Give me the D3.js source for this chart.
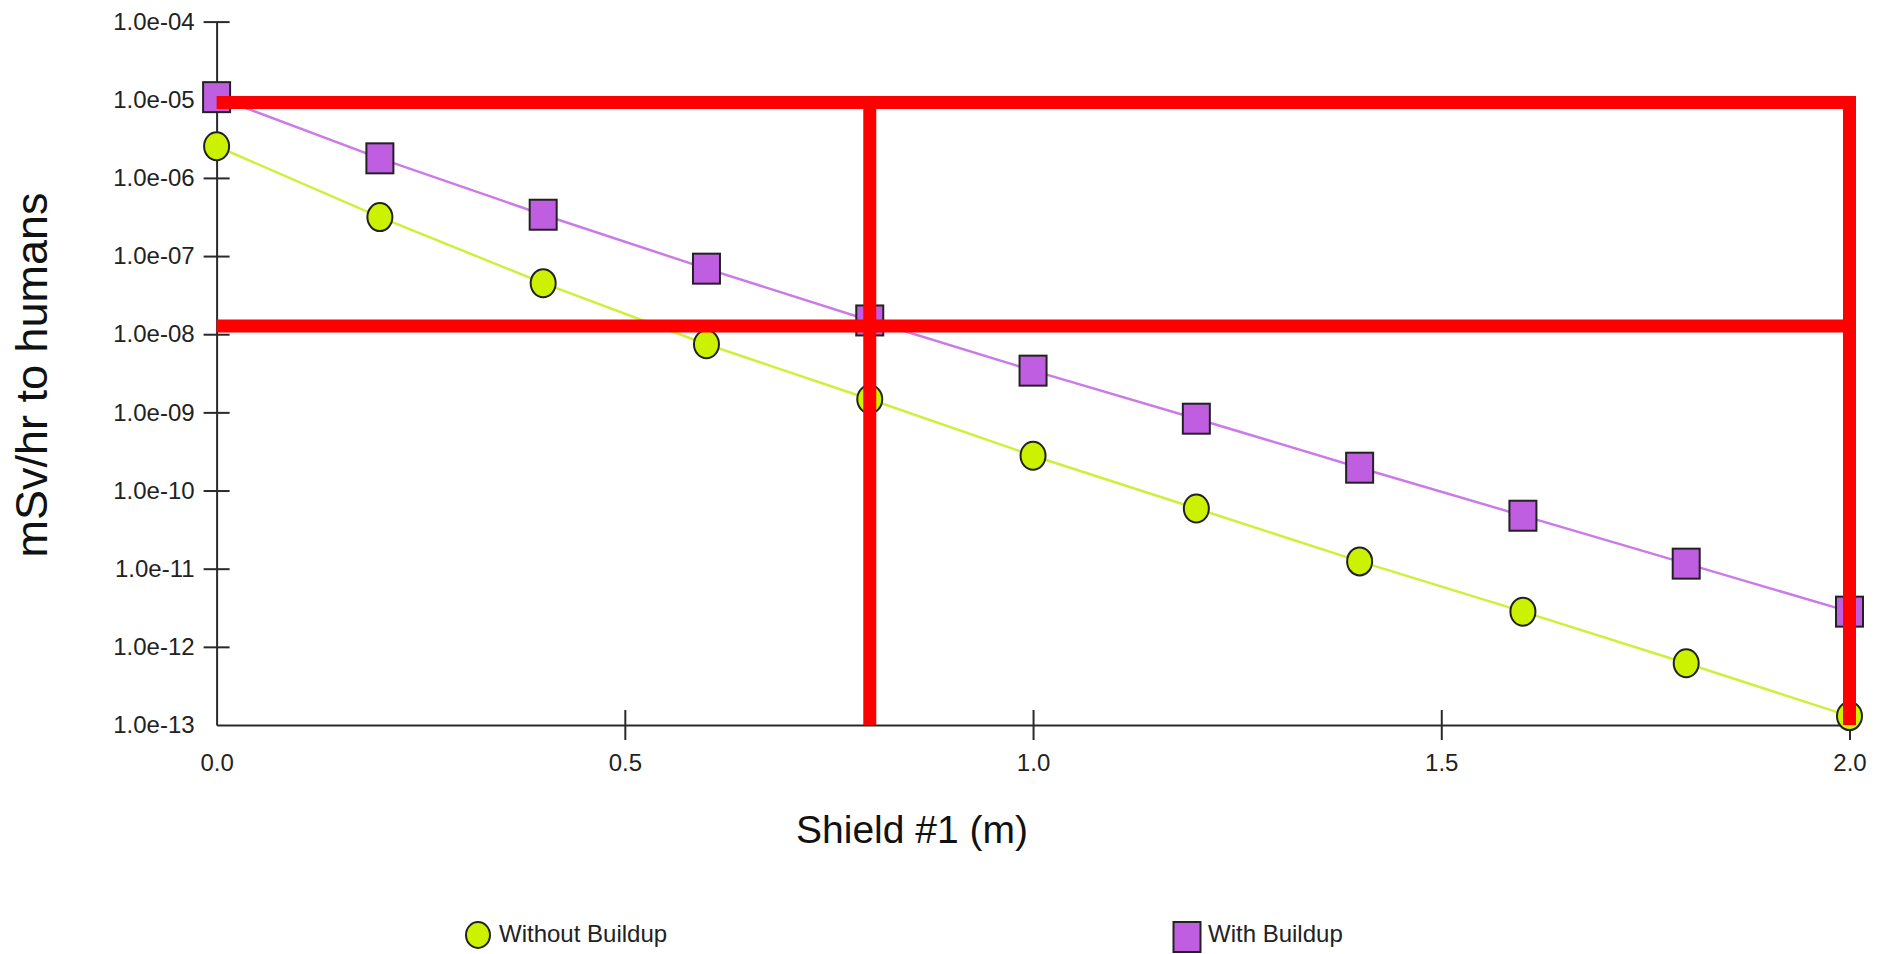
<!DOCTYPE html>
<html>
<head>
<meta charset="utf-8">
<script src="https://cdn.jsdelivr.net/npm/d3@7"></script>
<style>
  html, body { margin: 0; padding: 0; background: #fff; }
  svg { display: block; font-family: "Liberation Sans", Arial, sans-serif; }
</style>
</head>
<body>
<svg id="chart" width="1881" height="954"></svg>
<script>
// ---- data ----
const shield = [0.0, 0.2, 0.4, 0.6, 0.8, 1.0, 1.2, 1.4, 1.6, 1.8, 2.0];
const withoutBuildup = [2.54e-6, 3.15e-7, 4.5e-8, 7.45e-9, 1.47e-9, 2.79e-10, 5.9e-11, 1.24e-11, 2.82e-12, 6.17e-13, 1.3e-13];
const withBuildup = [1.08e-5, 1.78e-6, 3.38e-7, 6.9e-8, 1.5e-8, 3.42e-9, 8.3e-10, 1.96e-10, 4.76e-11, 1.16e-11, 2.82e-12];
const seriesNames = ["Without Buildup", "With Buildup"];
const yTickValues = [1e-4, 1e-5, 1e-6, 1e-7, 1e-8, 1e-9, 1e-10, 1e-11, 1e-12, 1e-13];
const yTickLabels = ["1.0e-04", "1.0e-05", "1.0e-06", "1.0e-07", "1.0e-08", "1.0e-09", "1.0e-10", "1.0e-11", "1.0e-12", "1.0e-13"];
const xTickValues = [0.0, 0.5, 1.0, 1.5, 2.0];
const xTickLabels = ["0.0", "0.5", "1.0", "1.5", "2.0"];
const refX = [0.8, 2.0];          // red annotation verticals
const refY = [9.2e-6, 1.27e-8];   // red annotation horizontals
const xTitle = "Shield #1 (m)";
const yTitle = "mSv/hr to humans";

// ---- layout ----
const svg = d3.select("#chart");
const x = d3.scaleLinear().domain([0, 2]).range([216.6, 1849.5]);
const y = d3.scaleLog().domain([1e-13, 1e-4]).range([725, 21.6]);

const axisColor = "#2a2a2a";
const textColor = "#222";

// y axis
const gy = svg.append("g").attr("transform", `translate(${x(0)},0)`)
  .call(d3.axisLeft(y).tickValues(yTickValues).tickFormat((d, i) => yTickLabels[i]).tickSizeOuter(0).tickPadding(16));
gy.select(".domain").attr("stroke", axisColor).attr("stroke-width", 2);
gy.selectAll(".tick line").attr("x1", -13).attr("x2", 13).attr("stroke", axisColor).attr("stroke-width", 2)
  .filter(d => d === 1e-13).remove();
gy.selectAll(".tick text").attr("fill", textColor).style("font-size", "24px").style("font-family", "Liberation Sans, Arial, sans-serif");

// x axis
const gx = svg.append("g").attr("transform", `translate(0,${y(1e-13)})`)
  .call(d3.axisBottom(x).tickValues(xTickValues).tickFormat((d, i) => xTickLabels[i]).tickSizeOuter(0).tickPadding(23));
gx.select(".domain").attr("stroke", axisColor).attr("stroke-width", 2);
gx.selectAll(".tick line").attr("y1", -15).attr("y2", 15).attr("stroke", axisColor).attr("stroke-width", 2)
  .filter(d => d === 0).remove();
gx.selectAll(".tick text").attr("fill", textColor).style("font-size", "24px").style("font-family", "Liberation Sans, Arial, sans-serif");

// titles
svg.append("text").attr("x", 912).attr("y", 843).attr("text-anchor", "middle")
  .attr("fill", "#111").style("font-size", "39px").text(xTitle);
svg.append("text").attr("transform", "translate(47,375) rotate(-90)").attr("text-anchor", "middle")
  .attr("fill", "#111").style("font-size", "45px").text(yTitle);

// lines
const lineColors = ["#cdf03a", "#cc7ae8"];
const fills = ["#ccf200", "#bf5ee0"];
const series = [withoutBuildup, withBuildup];
const line = d3.line().x((d, i) => x(shield[i])).y(d => y(d));
series.forEach((s, k) => {
  svg.append("path").datum(s).attr("d", line).attr("fill", "none")
    .attr("stroke", lineColors[k]).attr("stroke-width", 2.5);
});

// markers
svg.append("g").selectAll("ellipse").data(withoutBuildup).join("ellipse")
  .attr("cx", (d, i) => x(shield[i])).attr("cy", d => y(d))
  .attr("rx", 12.5).attr("ry", 14)
  .attr("fill", fills[0]).attr("stroke", "#222").attr("stroke-width", 2);
svg.append("g").selectAll("rect").data(withBuildup).join("rect")
  .attr("x", (d, i) => x(shield[i]) - 13.5).attr("y", d => y(d) - 15)
  .attr("width", 27).attr("height", 30)
  .attr("fill", fills[1]).attr("stroke", "#222").attr("stroke-width", 2);

// red annotation lines
const red = "#ff0000", redW = 13;
svg.append("g").selectAll("line").data(refY).join("line")
  .attr("x1", x(0)).attr("x2", x(2) + redW / 2)
  .attr("y1", d => y(d)).attr("y2", d => y(d))
  .attr("stroke", red).attr("stroke-width", redW);
svg.append("g").selectAll("line").data(refX).join("line")
  .attr("x1", d => x(d)).attr("x2", d => x(d))
  .attr("y1", y(refY[0]) - redW / 2).attr("y2", y(1e-13))
  .attr("stroke", red).attr("stroke-width", redW);

// legend
const legend = svg.append("g");
const lx = [478, 1187];
legend.append("ellipse").attr("cx", lx[0]).attr("cy", 935).attr("rx", 12).attr("ry", 13)
  .attr("fill", fills[0]).attr("stroke", "#222").attr("stroke-width", 2);
legend.append("rect").attr("x", lx[1] - 13.5).attr("y", 922).attr("width", 27).attr("height", 30)
  .attr("fill", fills[1]).attr("stroke", "#222").attr("stroke-width", 2);
seriesNames.forEach((n, i) => {
  legend.append("text").attr("x", lx[i] + 21).attr("y", 942).attr("fill", textColor)
    .style("font-size", "24px").text(n);
});
</script>
</body>
</html>
